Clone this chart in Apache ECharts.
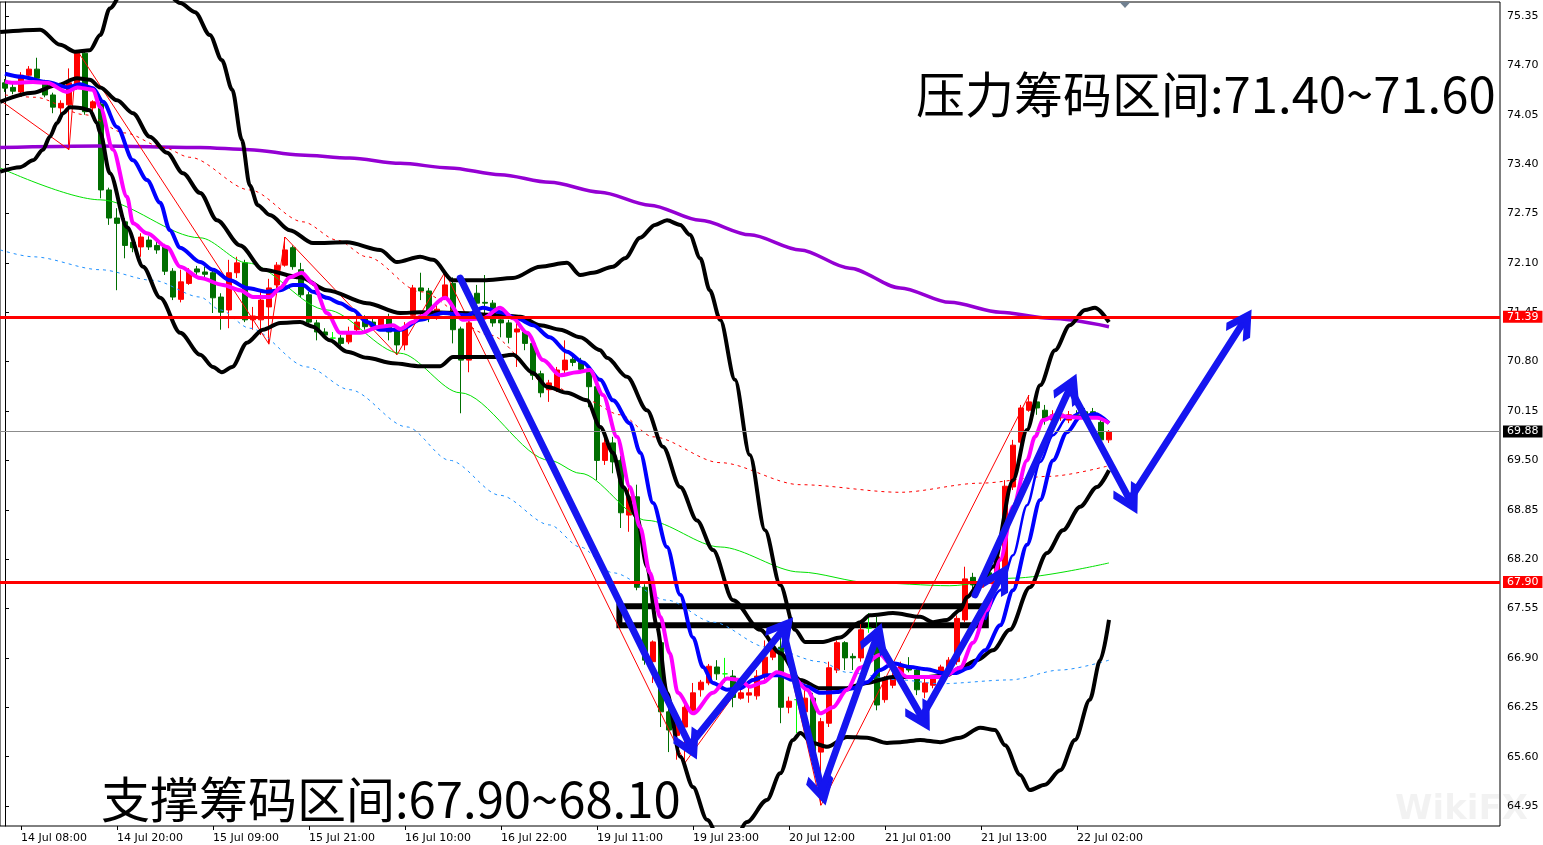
<!DOCTYPE html>
<html><head><meta charset="utf-8">
<script src="https://cdn.jsdelivr.net/npm/echarts@6/dist/echarts.min.js"></script>
<style>html,body{margin:0;padding:0;background:#fff}#c{width:1543px;height:845px}</style>
</head><body><div id="c"></div>
<script>
// ---------- tick labels ----------
const tickLabels = ['14 Jul 08:00','14 Jul 20:00','15 Jul 09:00','15 Jul 21:00','16 Jul 10:00','16 Jul 22:00',
  '19 Jul 11:00','19 Jul 23:00','20 Jul 12:00','21 Jul 01:00','21 Jul 13:00','22 Jul 02:00'];
const tickBars = [2,14,26,38,50,62,74,86,98,110,122,134];
const yTicks = [64.95,65.60,66.25,66.90,67.55,68.20,68.85,69.50,70.15,70.80,71.45,72.10,72.75,73.40,74.05,74.70,75.35];

// ---------- candles: [open, close, low, high] ----------
const candles = [
[74.47,74.40,74.35,74.52],[74.41,74.36,74.32,74.47],[74.35,74.57,74.32,74.61],[74.57,74.65,74.56,74.69],
[74.65,74.53,74.47,74.80],[74.47,74.31,74.28,74.51],[74.31,74.15,74.07,74.34],[74.14,74.20,73.98,74.24],
[74.18,74.47,73.59,74.66],[74.41,74.86,74.38,74.90],[74.86,74.09,74.05,74.90],[74.14,74.22,74.09,74.24],
[74.19,73.06,72.95,74.24],[73.06,72.69,72.60,73.09],[72.69,72.62,71.74,72.82],[72.64,72.33,72.16,72.69],
[72.37,72.30,72.24,72.43],[72.31,72.44,72.18,72.49],[72.40,72.31,72.27,72.45],[72.33,72.27,72.22,72.39],
[72.31,71.99,71.94,72.35],[71.99,71.65,71.61,72.03],[71.62,71.85,71.58,72.01],[71.83,71.98,71.81,72.03],
[72.02,71.98,71.94,72.06],[71.98,71.95,71.91,72.05],[71.97,71.64,71.44,72.01],[71.65,71.45,71.22,71.70],
[71.48,71.97,71.24,72.14],[71.97,72.10,71.90,72.18],[72.10,71.35,71.32,72.14],[71.35,71.40,71.22,71.52],
[71.35,71.61,71.15,71.72],[71.52,71.77,71.03,71.89],[71.81,72.07,71.74,72.11],[72.07,72.27,72.05,72.44],
[72.30,72.05,72.01,72.33],[72.01,71.68,71.65,72.10],[71.68,71.32,71.28,71.72],[71.31,71.19,71.08,71.35],
[71.19,71.15,71.12,71.24],[71.11,71.11,71.04,71.19],[71.11,71.04,71.01,71.15],[71.06,71.19,71.03,71.26],
[71.22,71.32,71.19,71.44],[71.37,71.26,71.22,71.41],[71.32,71.26,71.22,71.36],[71.26,71.36,71.22,71.40],
[71.39,71.19,71.08,71.43],[71.22,71.02,70.89,71.26],[71.02,71.26,70.95,71.32],[71.41,71.77,71.37,71.81],
[71.77,71.73,71.61,71.97],[71.73,71.41,71.32,71.77],[71.41,71.49,71.35,71.58],[71.64,71.81,71.61,71.98],
[71.83,71.22,71.04,71.91],[71.23,70.82,70.12,71.26],[70.82,71.31,70.66,71.35],[71.70,71.57,71.53,71.81],
[71.58,71.57,71.35,71.94],[71.57,71.31,71.26,71.61],[71.35,71.31,71.12,71.44],[71.31,71.12,71.04,71.35],
[71.19,71.23,70.73,71.31],[71.19,71.04,70.95,71.23],[71.04,70.62,70.56,71.08],[70.64,70.39,70.33,70.68],
[70.43,70.52,70.27,70.56],[70.43,70.69,70.40,70.73],[70.69,70.82,70.65,71.08],[70.83,70.79,70.74,70.87],
[70.79,70.70,70.66,70.85],[70.70,70.47,70.20,70.74],[70.47,69.50,69.24,70.49],[69.50,69.73,69.44,69.86],
[69.73,69.48,69.33,69.81],[69.50,68.81,68.61,69.56],[68.78,69.02,68.56,69.15],[69.02,67.83,67.79,69.18],
[67.83,66.87,66.81,67.87],[66.85,67.11,66.57,67.13],[67.10,66.19,65.99,67.13],[66.19,65.95,65.66,66.27],
[65.88,66.11,65.56,66.19],[65.99,66.25,65.52,66.35],[66.21,66.44,66.19,66.57],[66.48,66.58,66.39,66.61],
[66.57,66.79,66.54,66.82],[66.78,66.69,66.61,66.87],[66.69,66.69,66.57,66.90],[66.66,66.38,66.25,66.74],
[66.37,66.44,66.35,66.48],[66.41,66.44,66.31,66.52],[66.40,66.66,66.35,66.74],[66.65,66.91,66.61,67.13],
[66.91,67.04,66.87,67.13],[67.04,66.25,66.04,67.27],[66.25,66.33,66.17,66.39],[66.35,66.35,65.91,66.44],
[66.19,66.37,65.99,66.57],[66.37,65.65,65.52,66.44],[65.66,66.06,64.96,66.11],[66.04,66.77,65.99,66.85],
[66.74,67.10,66.70,67.13],[67.10,66.90,66.74,67.12],[66.92,66.90,66.74,66.96],[66.90,67.27,66.85,67.40],
[67.29,67.29,67.23,67.49],[67.27,66.28,66.21,67.44],[66.35,66.61,66.31,66.66],[66.54,66.65,66.50,66.70],
[66.67,66.79,66.64,66.85],[66.79,66.74,66.71,66.91],[66.74,66.48,66.41,66.78],[66.45,66.57,66.37,66.63],
[66.54,66.63,66.50,66.67],[66.67,66.78,66.65,66.81],[66.78,66.87,66.74,66.91],[66.85,67.42,66.81,67.46],
[67.40,67.94,67.37,68.10],[67.96,67.86,67.70,68.02],[67.83,67.92,67.79,67.98],[68.02,67.92,67.89,68.08],
[67.96,68.23,67.92,68.28],[68.02,69.16,67.98,69.24],[69.15,69.70,69.11,69.77],[69.74,70.19,69.70,70.23],
[70.16,70.27,70.14,70.36],[70.27,70.19,70.10,70.35],[70.16,70.03,69.97,70.23],[70.03,70.10,69.99,70.16],
[70.06,70.11,70.02,70.16],[70.03,70.10,69.99,70.15],[70.10,70.06,70.00,70.16],[70.14,70.08,70.03,70.19],
[70.14,70.10,70.06,70.19],[70.00,69.77,69.73,70.06],[69.77,69.88,69.73,69.90]
];
const dojiBars = [41,90,99,108];

// ---------- indicator lines: [bar index, price] ----------
const maFast = [[0,74.49],[1,74.47],[3.5,74.48],[5.25,74.47],[7.75,74.35],[9,74.41],[11,74.38],[11.9,74.15],[13.5,73.59],[15.25,72.97],[16,72.62],[17.75,72.49],[20.25,72.31],[21.9,72.05],[24.4,71.90],[27.25,71.81],[29.4,71.74],[31,71.65],[33.1,71.65],[34.4,71.77],[35.6,71.91],[37.1,71.97],[38.5,71.83],[40.25,71.44],[41.9,71.18],[44.4,71.18],[46.9,71.26],[48.5,71.28],[49.4,71.23],[51,71.32],[51.9,71.39],[55,71.64],[57.25,71.35],[59.75,71.37],[61.9,71.51],[63.5,71.37],[65.25,71.18],[67.25,70.82],[69.4,70.62],[71.5,70.66],[73.1,70.69],[74.75,70.36],[76.5,69.81],[78.1,69.15],[79.4,68.62],[80.6,68.02],[81.9,67.44],[83.1,66.96],[84.1,66.44],[86,66.17],[88.5,66.44],[90.25,66.63],[91.9,66.61],[93.1,66.52],[94.75,66.58],[96.5,66.71],[98.5,66.65],[100.25,66.48],[101.9,66.17],[103.5,66.25],[105.25,66.48],[106.9,66.77],[109.4,66.94],[111,66.78],[112.75,66.65],[115.25,66.65],[117.25,66.65],[119.4,66.77],[121,67.10],[122.75,67.53],[124.4,68.19],[126,68.89],[127.75,69.50],[128.75,69.81],[129.75,70.03],[131.5,70.10],[133.1,70.07],[134.75,70.06],[136.5,70.06],[138,69.99]];
const maMid = [[0,74.59],[2,74.55],[5.25,74.48],[7.75,74.41],[9.4,74.45],[11,74.40],[12.25,74.22],[14,73.89],[16,73.45],[17.75,73.19],[19.4,72.89],[20.6,72.53],[21.9,72.30],[24.4,72.11],[26,72.01],[28.1,71.87],[30.25,71.77],[32.75,71.72],[34.4,71.74],[36,71.81],[37.25,71.81],[38.5,71.72],[40.25,71.64],[41.9,71.57],[43.5,71.48],[45.25,71.32],[46.9,71.22],[49.4,71.22],[51.9,71.35],[54.75,71.44],[57.75,71.41],[59.75,71.51],[61.9,71.45],[64,71.37],[66,71.28],[68.1,71.12],[70.25,70.93],[72.25,70.79],[74.4,70.56],[76,70.29],[78.1,69.99],[79.4,69.60],[81,68.94],[82.75,68.36],[84.4,67.73],[86,67.17],[87.25,66.78],[88.5,66.57],[90.25,66.48],[91.9,66.50],[93.5,66.61],[95.25,66.67],[96.9,66.67],[98.5,66.61],[100.25,66.52],[101.9,66.44],[104,66.45],[106,66.50],[107.75,66.58],[109.4,66.74],[111,66.83],[113.1,66.78],[115.25,66.75],[117.25,66.70],[118.75,66.70],[120.6,66.77],[122.5,67.00],[124.4,67.33],[126,67.79],[127.75,68.39],[129.4,68.98],[131,69.50],[132.75,69.87],[134.4,70.07],[136.25,70.11],[138,69.99]];
const maMid2 = [[122.5,67.40],[124.4,67.79],[126,68.25],[127.75,68.91],[129.4,69.48],[131,69.83],[132.75,70.06],[134.4,70.14]];
const bbMid = [[-0.6,74.22],[3.5,74.34],[6.5,74.44],[9,74.53],[10.6,74.51],[11.9,74.41],[14,74.24],[16,74.07],[18.1,73.76],[20.25,73.55],[22.25,73.28],[24.4,73.02],[26.5,72.66],[29.4,72.33],[32.25,72.01],[36.9,71.91],[40.25,71.74],[45.25,71.57],[49.4,71.44],[51.9,71.45],[56.9,71.44],[61.9,71.41],[64.4,71.39],[66.9,71.28],[69.4,71.22],[71.9,71.12],[74.4,70.95],[75.25,70.85],[77.75,70.60],[80.25,70.16],[82.25,69.68],[84.4,69.15],[86.5,68.71],[88.5,68.32],[91,67.66],[94.4,67.27],[96.9,66.96],[99.4,66.61],[101.9,66.50],[105,66.50],[107.75,66.57],[111,66.65],[115.25,66.65],[117.75,66.67],[119.4,66.77],[121.5,66.87],[123.5,67.00],[125.6,67.27],[128.1,67.83],[130.25,68.28],[132.25,68.58],[134.4,68.89],[136.5,69.15],[138,69.37]];
const bbUpper = [[-0.6,75.14],[4.4,75.17],[6.9,74.97],[8.75,74.88],[10.6,74.90],[11.9,75.10],[13.1,75.45],[15,75.72],[17.5,75.82],[20,75.67],[21.9,75.52],[23.75,75.40],[25.6,75.10],[27.1,74.77],[28.4,74.38],[29.6,73.72],[30.6,73.12],[31.6,72.86],[33.1,72.73],[35.6,72.53],[38.5,72.36],[42.75,72.37],[46.9,72.27],[49,72.11],[51.9,72.18],[53.5,72.14],[56,71.87],[59.75,71.87],[63.5,71.90],[66.9,72.05],[70.25,72.10],[71.9,71.94],[73.5,71.97],[76,72.05],[77.5,72.16],[79.4,72.43],[81.25,72.60],[82.75,72.66],[84.4,72.60],[85.6,72.47],[86.9,72.16],[88.1,71.74],[89.4,71.35],[91.25,70.56],[93.1,69.57],[95,68.58],[96.9,67.86],[98.75,67.27],[100,67.11],[102.25,67.11],[104.4,67.17],[106.9,67.37],[108.1,67.46],[111,67.49],[114.4,67.44],[116,67.37],[117.75,67.40],[119.4,67.53],[120.25,67.70],[121.9,67.89],[123.5,68.10],[126,69.24],[127.75,69.90],[129.4,70.49],[131.25,70.95],[133.1,71.28],[135,71.48],[136.25,71.51],[138,71.32]];
const bbLower = [[-0.6,73.30],[1.9,73.36],[3.5,73.45],[4.75,73.59],[5.6,73.76],[6.5,73.94],[7.25,74.07],[8.1,74.15],[9.4,74.14],[10.6,74.11],[11.5,73.94],[11.9,73.81],[13.1,73.28],[15.25,72.57],[17.25,72.05],[19.4,71.64],[21.9,71.18],[24.4,70.89],[26,70.73],[27.1,70.66],[28.4,70.73],[30.25,71.05],[32.25,71.22],[34.4,71.31],[36.9,71.32],[38.5,71.26],[40.6,71.08],[42.75,70.93],[45.25,70.85],[48.5,70.78],[51.9,70.74],[54.4,70.74],[56,70.86],[61,70.86],[63.5,70.89],[66,70.65],[67.75,70.47],[70.25,70.39],[72.75,70.29],[74.4,69.94],[76,69.60],[77.25,69.15],[79,68.75],[80.25,68.10],[81.5,67.31],[82.75,66.44],[84.4,65.60],[86,65.20],[87.75,64.77],[90.25,64.24],[92.75,64.74],[95.25,65.03],[96.9,65.38],[98.5,65.82],[99.4,65.91],[101,65.78],[102.75,65.73],[105.25,65.86],[107.75,65.85],[110.25,65.78],[111.9,65.79],[114.4,65.82],[116.9,65.79],[119.4,65.85],[121.9,65.98],[123.75,65.95],[125,65.75],[126.9,65.36],[128.1,65.16],[130,65.23],[131.9,65.42],[133.75,65.82],[135.6,66.35],[136.9,66.87],[138,67.40]];
const maGreen = [[-0.6,73.35],[11.9,72.93],[24.4,72.43],[30.25,72.10],[40.25,71.48],[49.4,70.91],[56.9,70.39],[68.1,69.50],[71.9,69.33],[80.25,68.71],[89.4,68.36],[99.4,68.03],[108.1,67.89],[118.1,67.85],[126,67.95],[138,68.15]];
const maPurple = [[-0.6,73.62],[11.9,73.64],[24.4,73.62],[30.6,73.59],[36.9,73.52],[43.1,73.48],[49.4,73.41],[55.6,73.35],[61.9,73.26],[68.1,73.16],[74.4,73.03],[80.6,72.86],[86.9,72.66],[93.1,72.47],[99.4,72.27],[105.6,72.03],[111.9,71.77],[118.1,71.58],[124.4,71.45],[130.6,71.37],[138,71.26]];
const envUpper = [[0,74.31],[3.75,74.28],[10,74.05],[15,73.81],[19.75,73.62],[23.1,73.49],[30.6,73.06],[37.25,72.64],[41.5,72.40],[45.25,72.18],[51.9,71.72],[60.6,71.15],[68.1,70.49],[72.75,70.29],[76.9,70.10],[81,69.81],[89.4,69.47],[99.4,69.18],[111.9,69.08],[121.9,69.20],[130.6,69.29],[138,69.43]];
const envLower = [[-0.6,72.27],[3.5,72.18],[11.9,72.01],[18.5,71.87],[24.4,71.65],[26.9,71.48],[30.6,71.24],[37.75,70.73],[43.1,70.43],[50.25,69.94],[55.6,69.50],[61.9,69.04],[68.1,68.65],[71.9,68.36],[76,68.02],[82.75,67.66],[88.5,67.37],[95.25,67.04],[101.9,66.85],[105.25,66.71],[111.9,66.61],[116.9,66.56],[125.6,66.61],[131.9,66.74],[138,66.87]];
const zigzag = [[-0.6,74.24],[8,73.59],[9,74.90],[33,71.03],[35,72.44],[49,70.89],[55,71.98],[85,65.52],[97,67.27],[102,64.96],[128,70.36]];

// ---------- levels & annotations ----------
const resistanceLevel = 71.39;
const supportLevel = 67.90;
const lastPrice = 69.88;
const zoneBox = [[76.8,67.58],[122.6,67.33]];
const arrowPathA = [[56.9,71.90],[85.6,65.75],[97.25,67.27],[102.1,65.16],[108.9,67.16],[114.6,66.12],[124.4,67.95]];
const arrowPathB = [[121.25,67.73],[133.1,70.45],[140.6,68.98],[154.75,71.31]];
const chartShiftBar = 140;
const resistanceText = '压力筹码区间:71.40~71.60';
const supportText = '支撑筹码区间:67.90~68.10';

// ---------- build ----------
const FONT = 'DejaVu Sans';
const candleData = candles.map((r, i) => {
  const item = {value: [i, r[0], r[1], r[2], r[3]]};
  if (dojiBars.indexOf(i) >= 0) item.itemStyle = {color: '#00ff00', borderColor: '#00ff00', color0: '#00ff00', borderColor0: '#00ff00'};
  return item;
});
function ln(name, data, color, width, extra) {
  return Object.assign({
    type: 'line', name, data, symbol: 'none', smooth: 0.3, smoothMonotone: 'x',
    lineStyle: {color, width}, silent: true, z: 3
  }, extra || {});
}
function legs(path) {
  const out = [];
  for (let i = 0; i < path.length - 1; i++) out.push([{coord: path[i]}, {coord: path[i + 1]}]);
  return out;
}
const chevron = 'path://M0,0L12,12L8.5,15.5L0,7L-8.5,15.5L-12,12Z';
const levelLabel = (bg) => ({show: true, position: 'end', distance: 3, color: '#fff', backgroundColor: bg,
  padding: [1, 4, 0, 4], fontFamily: FONT, fontSize: 11, formatter: (p) => p.value.toFixed(2)});

const option = {
  animation: false,
  backgroundColor: '#fff',
  grid: {left: 0, top: 2, width: 1500, height: 824, show: true, borderColor: '#000', borderWidth: 1, backgroundColor: '#fff'},
  xAxis: {
    type: 'value', min: -0.625, max: 186.875,
    axisLine: {show: false},
    splitLine: {show: false},
    axisTick: {show: true, customValues: tickBars, length: 4, lineStyle: {color: '#000'}},
    axisLabel: {customValues: tickBars, formatter: (v) => tickLabels[tickBars.indexOf(Math.round(v))] || '',
      align: 'left', margin: 7, color: '#000', fontFamily: FONT, fontSize: 11}
  },
  yAxis: {
    type: 'value', position: 'right', min: 64.687, max: 75.534, scale: true,
    axisLine: {show: true, lineStyle: {color: '#000'}},
    splitLine: {show: false},
    axisTick: {show: true, customValues: yTicks, length: 4, lineStyle: {color: '#000'}},
    axisLabel: {customValues: yTicks, formatter: (v) => v.toFixed(2), margin: 7, color: '#000', fontFamily: FONT, fontSize: 11}
  },
  series: [
    {
      type: 'candlestick', name: 'price', data: candleData, barWidth: 5, z: 2, silent: true,
      dimensions: ['bar', 'open', 'close', 'lowest', 'highest'],
      encode: {x: 'bar', y: ['open', 'close', 'lowest', 'highest']},
      itemStyle: {color: '#ff0000', color0: '#006e00', borderColor: '#ff0000', borderColor0: '#006e00', borderWidth: 1},
      markLine: {
        silent: true, symbol: ['none', 'none'], animation: false,
        data: [
          {yAxis: resistanceLevel, lineStyle: {color: '#ff0000', width: 3, type: 'solid'}, label: levelLabel('#ff0000')},
          {yAxis: supportLevel, lineStyle: {color: '#ff0000', width: 3, type: 'solid'}, label: levelLabel('#ff0000')},
          {yAxis: lastPrice, lineStyle: {color: '#8c8c8c', width: 1, type: 'solid'}, label: levelLabel('#000000')}
        ]
      },
      markPoint: {
        silent: true, animation: false,
        data: [{coord: [chartShiftBar, 75.534], symbol: 'triangle', symbolRotate: 180, symbolSize: [11, 6], symbolOffset: [0, 3],
          itemStyle: {color: '#708090'}, label: {show: false}}]
      }
    },
    ln('MA green', maGreen, '#00e000', 1),
    ln('MA purple', maPurple, '#9400d3', 3.5),
    ln('Envelope upper', envUpper, '#ff0000', 1, {lineStyle: {color: '#ff0000', width: 1, type: [3, 4]}}),
    ln('Envelope lower', envLower, '#1e90ff', 1, {lineStyle: {color: '#1e90ff', width: 1, type: [3, 4]}}),
    ln('ZigZag', zigzag, '#ff0000', 1, {smooth: false}),
    ln('BB upper', bbUpper, '#000000', 4),
    ln('BB lower', bbLower, '#000000', 4),
    ln('BB middle', bbMid, '#000000', 4),
    ln('MA blue', maMid, '#0000ff', 4),
    ln('MA blue 2', maMid2, '#0000ff', 2.5),
    ln('MA fast', maFast, '#ff00ff', 4),
    {
      type: 'line', name: 'zone', data: [], silent: true, z: 5,
      markArea: {silent: true, animation: false,
        itemStyle: {color: 'rgba(0,0,0,0)', borderColor: '#000', borderWidth: 6},
        data: [[{coord: zoneBox[0]}, {coord: zoneBox[1]}]]}
    },
    {
      type: 'line', name: 'arrows', data: [], silent: true, z: 6,
      markLine: {silent: true, animation: false, symbol: ['none', chevron], symbolSize: [28, 32],
        lineStyle: {color: '#1515f0', width: 7, type: 'solid', cap: 'round'},
        label: {show: false},
        data: legs(arrowPathA).concat(legs(arrowPathB))}
    }
  ],
  graphic: [
    {type: 'text', left: 916, top: 70, z: 100, style: {text: resistanceText, font: '49px "Noto Sans CJK SC"', fill: '#000'}},
    {type: 'text', left: 101, top: 775, z: 100, style: {text: supportText, font: '49px "Noto Sans CJK SC"', fill: '#000'}},
    {type: 'text', left: 1395, top: 793, z: 100, style: {text: 'WikiFX', font: 'bold 34px "DejaVu Sans"', fill: 'rgba(0,0,0,0.05)'}}
  ]
};
const chart = echarts.init(document.getElementById('c'));
chart.setOption(option);
</script>
</body></html>
